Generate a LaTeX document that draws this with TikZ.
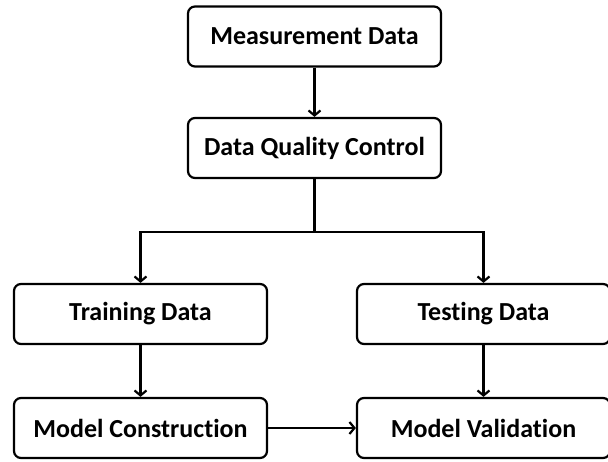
\documentclass[tikz,border=0pt]{standalone}
\usepackage{fontspec}
\setmainfont{Carlito}[Ligatures=NoCommon]
\usetikzlibrary{arrows.meta, positioning}

\begin{document}
\begin{tikzpicture}[x=1pt, y=1pt,
    stage/.style={draw, rounded corners=7pt, line width=2.2pt, minimum width=253pt, minimum height=60pt, inner sep=0pt, font=\fontsize{26}{31}\selectfont\bfseries},
    flow/.style={line width=2.2pt, -{Straight Barb[length=5pt, width=12pt, line width=2.2pt]}},
    link/.style={line width=2.2pt}]
\useasboundingbox (0,0) rectangle (608,461);

\node[stage] (measure) at (314.5, 424.5) {Measurement Data};
\node[stage] (quality) at (314.5, 313) {Data Quality Control};
\node[stage] (train) at (140.5, 147) {Training Data};
\node[stage] (test) at (483.5, 147) {Testing Data};
\node[stage] (build) at (140.5, 33) {Model Construction};
\node[stage] (valid) at (483.5, 33) {Model Validation};

\coordinate (split) at (314.5, 229);

\draw[flow] (measure) -- (quality);
\draw[link] (quality) -- (split);
\draw[flow] (split) -| (train);
\draw[flow] (split) -| (test);
\draw[flow] (train) -- (build);
\draw[flow] (test) -- (valid);
\draw[flow] (build) -- (valid);

\end{tikzpicture}
\end{document}
